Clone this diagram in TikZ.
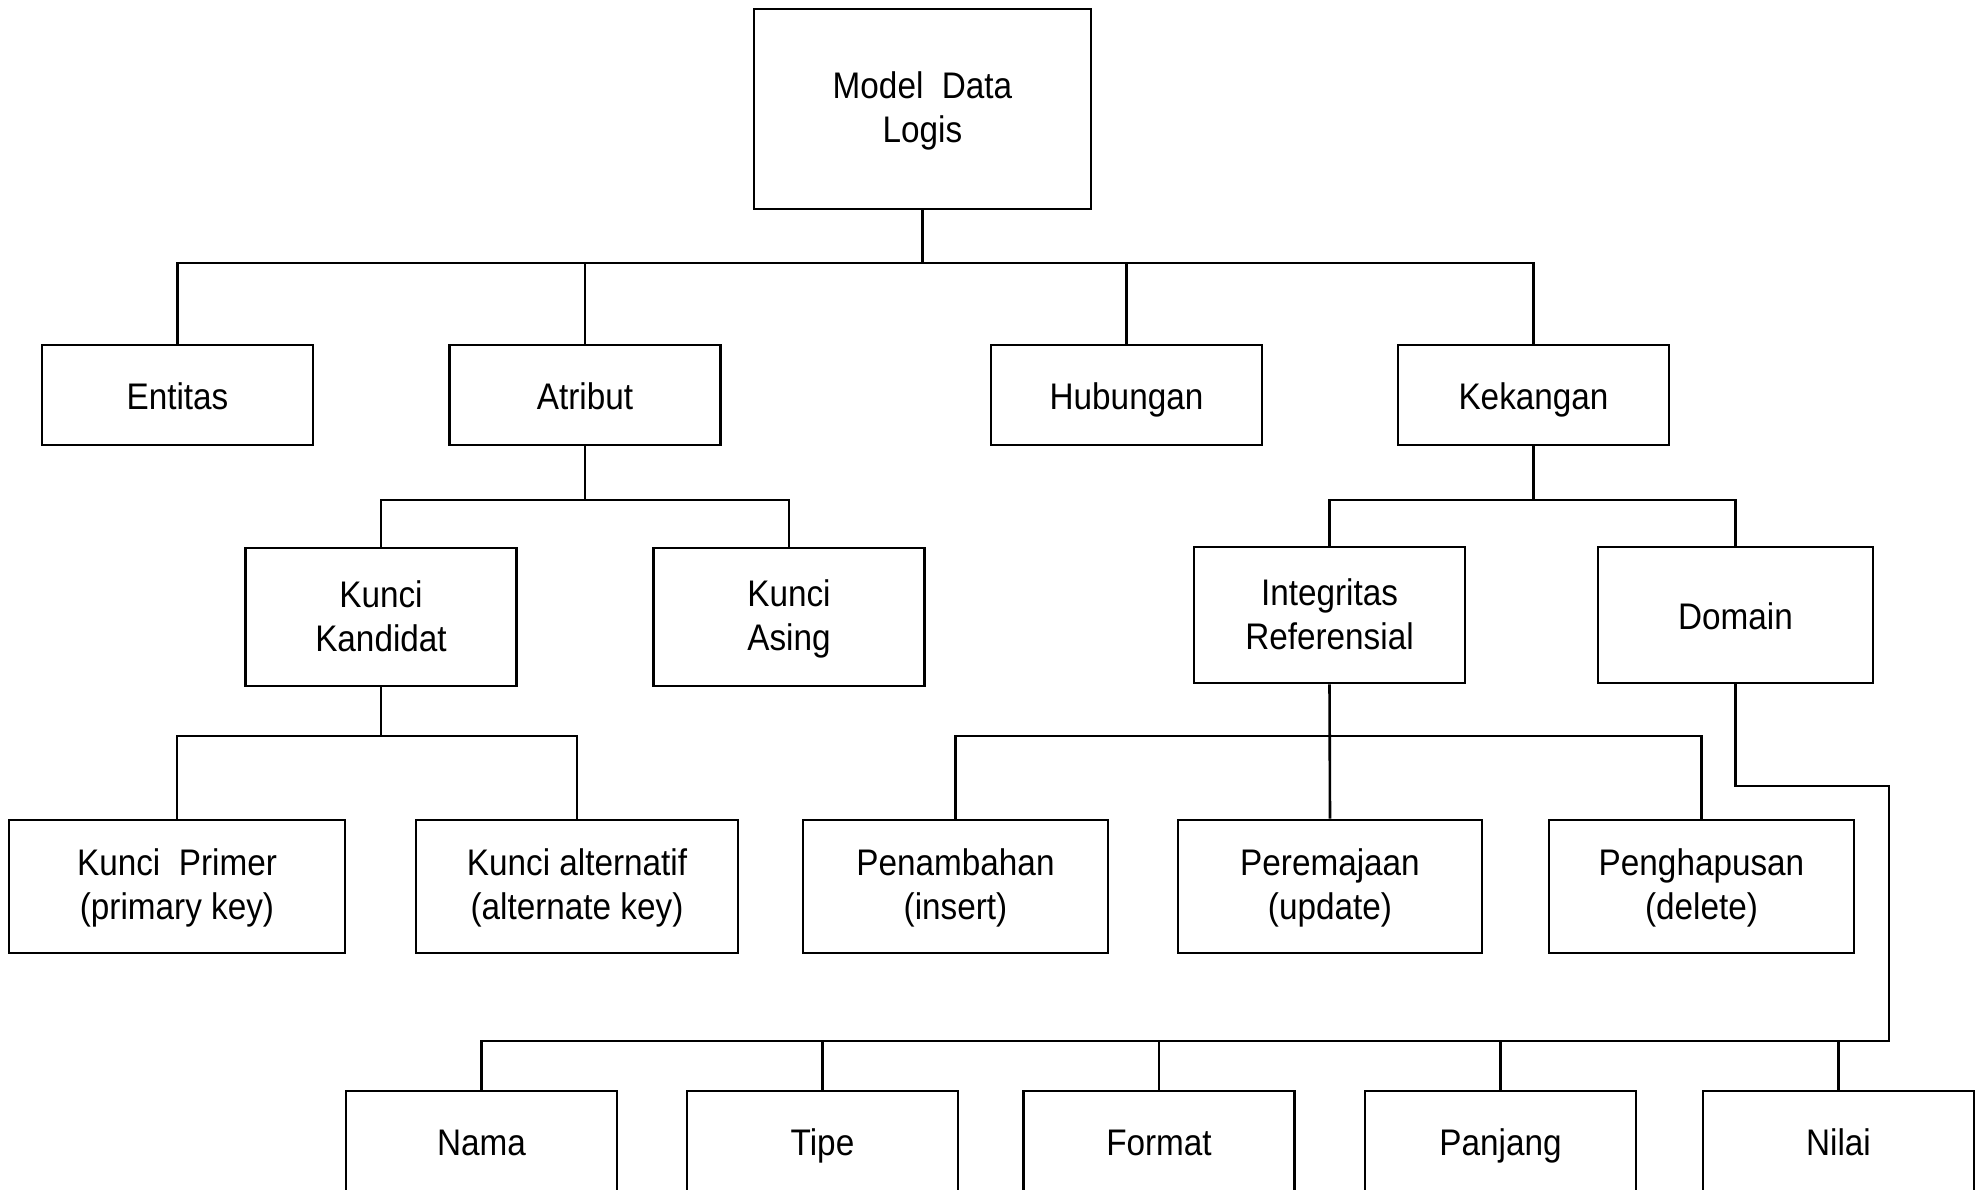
\documentclass[tikz,border=0pt]{standalone}
\usepackage{fontspec}
\setmainfont{Liberation Sans}[FakeStretch=0.9]
\newcommand{\mystrut}{\rule[-8pt]{0pt}{44pt}}
\newcommand{\mylowstrut}{\rule[-8pt]{0pt}{38pt}}
\newcommand{\mytop}{\rule{0pt}{30pt}}
\newcommand{\mybot}{\rule[-5pt]{0pt}{5pt}}
\begin{document}
\begin{tikzpicture}[x=1pt,y=-1pt,line width=2.6pt,
  box/.style={draw,black,line width=2.6pt,align=center,inner sep=0pt,
    font=\fontsize{37}{44}\selectfont,minimum width=271pt,minimum height=100pt},
  one/.style={box,execute at begin node=\mystrut},
  low/.style={box,minimum height=106pt,execute at begin node=\mylowstrut},
  conn/.style={draw,black,line width=2.6pt}]
\useasboundingbox (0,0) rectangle (1984,1190);
\clip (0,0) rectangle (1984,1190);
% root
\node[box,minimum width=337pt,minimum height=200pt] (root) at (922.5,109) {\mytop Model\ \ Data\\Logis\mybot};
% level 1
\node[one] (ent) at (177.5,395) {Entitas};
\node[one] (atr) at (585,395) {Atribut};
\node[one] (hub) at (1126.5,395) {Hubungan};
\node[one] (kek) at (1533.5,395) {Kekangan};
% level 2
\node[box,minimum height=138pt] (kk) at (381,617) {\mytop Kunci\\Kandidat\mybot};
\node[box,minimum height=138pt] (ka) at (789,617) {\mytop Kunci\\Asing\mybot};
\node[box,minimum height=136pt] (ir) at (1329.5,615) {\mytop Integritas\\Referensial\mybot};
\node[one,minimum width=275pt,minimum height=136pt] (dom) at (1735.5,615) {Domain};
% level 3
\node[box,minimum width=336pt,minimum height=133pt] (kp) at (177,886.5) {\mytop Kunci\ \ Primer\\(primary key)\mybot};
\node[box,minimum width=322pt,minimum height=133pt] (kal) at (577,886.5) {\mytop Kunci alternatif\\(alternate key)\mybot};
\node[box,minimum width=305pt,minimum height=133pt] (pen) at (955.5,886.5) {\mytop Penambahan\\(insert)\mybot};
\node[box,minimum width=304pt,minimum height=133pt] (per) at (1330,886.5) {\mytop Peremajaan\\(update)\mybot};
\node[box,minimum width=305pt,minimum height=133pt] (hap) at (1701.5,886.5) {\mytop Penghapusan\\(delete)\mybot};
% level 4 (cut off at bottom)
\node[low] (nama) at (481.5,1144) {Nama};
\node[low] (tipe) at (822.5,1144) {Tipe};
\node[low] (fmt) at (1159,1144) {Format};
\node[low] (pjg) at (1500.5,1144) {Panjang};
\node[low] (nil) at (1838.5,1144) {Nilai};
% bus coordinates
\coordinate (b1) at (922.5,263);
\coordinate (b2) at (585,500);
\coordinate (b3) at (1533.5,500);
\coordinate (b4) at (381,736);
\coordinate (b5) at (1329.5,736);
\coordinate (d1) at (1889,786);
\coordinate (d2) at (1889,1041);
% connectors
\draw[conn] (root.south) -- (b1);
\draw[conn] (ent.north) |- (b1);
\draw[conn] (atr.north) |- (b1);
\draw[conn] (hub.north) |- (b1);
\draw[conn] (kek.north) |- (b1);
\draw[conn] (atr.south) -- (b2);
\draw[conn] (kk.north) |- (b2);
\draw[conn] (ka.north) |- (b2);
\draw[conn] (kek.south) -- (b3);
\draw[conn] (ir.north) |- (b3);
\draw[conn] (dom.north) |- (b3);
\draw[conn] (kk.south) -- (b4);
\draw[conn] (kp.north) |- (b4);
\draw[conn] (kal.north) |- (b4);
\draw[conn] (ir.south) -- (per.north);
\draw[conn] (pen.north) |- (b5);
\draw[conn] (hap.north) |- (b5);
\draw[conn] (dom.south) |- (d1) -- (d2) -| (nama.north);
\draw[conn] (tipe.north) -- (tipe.north |- d2);
\draw[conn] (fmt.north) -- (fmt.north |- d2);
\draw[conn] (pjg.north) -- (pjg.north |- d2);
\draw[conn] (nil.north) -- (nil.north |- d2);
\end{tikzpicture}
\end{document}
